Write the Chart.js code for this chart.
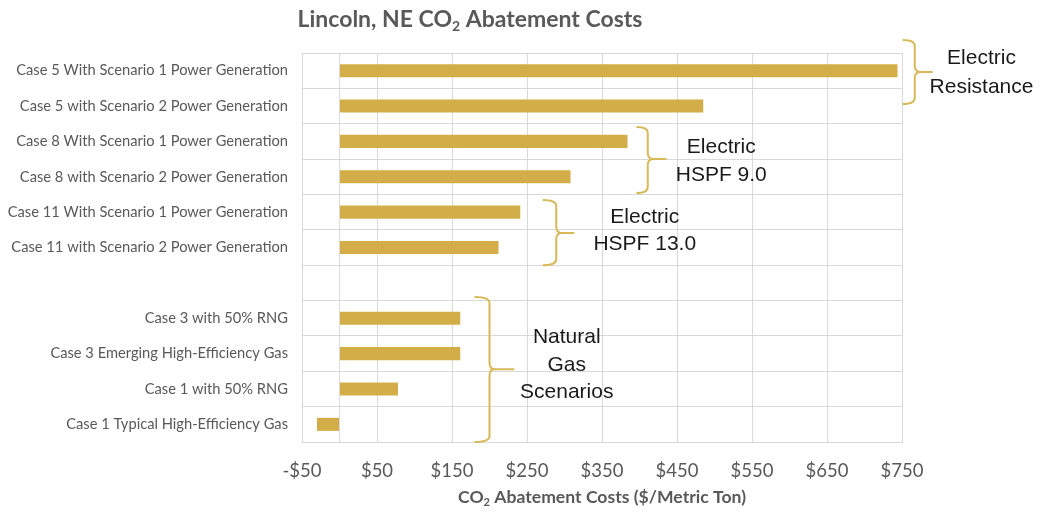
<!DOCTYPE html>
<html>
<head>
<meta charset="utf-8">
<script src="https://cdn.jsdelivr.net/npm/chart.js@4"></script>
<style>
  html, body { margin: 0; padding: 0; background: #ffffff; }
  #wrap { width: 1043px; height: 514px; position: relative; }
</style>
</head>
<body>
<div id="wrap"><canvas id="c" width="1043" height="514"></canvas></div>
<script>
// ---- data ----
const categories = [
  'Case 5 With Scenario 1 Power Generation',
  'Case 5 with Scenario 2 Power Generation',
  'Case 8 With Scenario 1 Power Generation',
  'Case 8 with Scenario 2 Power Generation',
  'Case 11 With Scenario 1 Power Generation',
  'Case 11 with Scenario 2 Power Generation',
  '',
  'Case 3 with 50% RNG',
  'Case 3 Emerging High-Efficiency Gas',
  'Case 1 with 50% RNG',
  'Case 1 Typical High-Efficiency Gas'
];
const abatementCosts = [744, 485, 384, 308, 241, 212, null, 161, 161, 78, -30];
const xTickValues = [-50, 50, 150, 250, 350, 450, 550, 650, 750];
const titleParts = [['Lincoln, NE CO', false], ['2', true], [' Abatement Costs', false]];
const axisTitleParts = [['CO', false], ['2', true], [' Abatement Costs ($/Metric Ton)', false]];
const groupLabels = [
  ['Electric', 'Resistance'],
  ['Electric', 'HSPF 9.0'],
  ['Electric', 'HSPF 13.0'],
  ['Natural', 'Gas', 'Scenarios']
];

// ---- annotation geometry (x in data units, y in category-index units) ----
const braces = [
  { hook: 751, spine: 767, tip: 791, top: -0.87, mid: 0.04, bottom: 0.94, textX: 856, textY: [-0.36, 0.46] },
  { hook: 396, spine: 411, tip: 436, top: 1.59, mid: 2.5, bottom: 3.46, textX: 509, textY: [2.16, 2.95] },
  { hook: 271, spine: 289, tip: 313, top: 3.66, mid: 4.59, bottom: 5.5, textX: 407, textY: [4.14, 4.9] },
  { hook: 180, spine: 200, tip: 233, top: 6.4, mid: 8.44, bottom: 10.5, textX: 303, textY: [7.53, 8.33, 9.09] }
];

const GOLD = '#D3AE48';
const BRACE = '#D8B95A';
const GRID = '#D9D9D9';
const TXT = '#595959';
const CAL = 'Lato, "Open Sans", sans-serif';

function drawParts(ctx, parts, cx, cy, size, weight, color) {
  const mainFont = weight + ' ' + size + 'px ' + CAL;
  const subFont = weight + ' ' + Math.round(size * 0.62) + 'px ' + CAL;
  let total = 0;
  parts.forEach(([t, sub]) => { ctx.font = sub ? subFont : mainFont; total += ctx.measureText(t).width; });
  let x = cx - total / 2;
  ctx.fillStyle = color;
  ctx.textAlign = 'left';
  ctx.textBaseline = 'middle';
  parts.forEach(([t, sub]) => {
    ctx.font = sub ? subFont : mainFont;
    ctx.fillText(t, x, sub ? cy + size * 0.3 : cy);
    x += ctx.measureText(t).width;
  });
}

const decorPlugin = {
  id: 'decor',
  afterDraw(chart) {
    const ctx = chart.ctx;
    const xs = chart.scales.x, ys = chart.scales.y;
    ctx.save();
    // titles
    drawParts(ctx, titleParts, 470, 20, 23, 'bold', TXT);
    drawParts(ctx, axisTitleParts, (chart.chartArea.left + chart.chartArea.right) / 2, 497, 17.6, 'bold', TXT);
    // braces
    braces.forEach((b, i) => {
      const xh = xs.getPixelForValue(b.hook), xv = xs.getPixelForValue(b.spine), xt = xs.getPixelForValue(b.tip);
      const yt = ys.getPixelForValue(b.top), ym = ys.getPixelForValue(b.mid), yb = ys.getPixelForValue(b.bottom);
      const r = 6;
      ctx.strokeStyle = BRACE;
      ctx.lineWidth = 2;
      ctx.beginPath();
      ctx.moveTo(xh, yt);
      ctx.quadraticCurveTo(xv, yt, xv, yt + r);
      ctx.lineTo(xv, ym - r);
      ctx.quadraticCurveTo(xv, ym, xv + r, ym);
      ctx.lineTo(xt, ym);
      ctx.moveTo(xv + r, ym);
      ctx.quadraticCurveTo(xv, ym, xv, ym + r);
      ctx.lineTo(xv, yb - r);
      ctx.quadraticCurveTo(xv, yb, xh, yb);
      ctx.stroke();
      ctx.fillStyle = '#1a1a1a';
      ctx.font = '21px "Liberation Sans", Arial, sans-serif';
      ctx.textAlign = 'center';
      ctx.textBaseline = 'middle';
      groupLabels[i].forEach((line, j) => {
        ctx.fillText(line, xs.getPixelForValue(b.textX), ys.getPixelForValue(b.textY[j]));
      });
    });
    ctx.restore();
  }
};

new Chart(document.getElementById('c'), {
  type: 'bar',
  data: {
    labels: categories,
    datasets: [{
      data: abatementCosts,
      backgroundColor: GOLD,
      borderWidth: 0,
      barPercentage: 0.37,
      categoryPercentage: 1.0
    }]
  },
  plugins: [decorPlugin],
  options: {
    indexAxis: 'y',
    responsive: false,
    animation: false,
    devicePixelRatio: 1,
    layout: { padding: { top: 53, right: 141, left: 0, bottom: 0 } },
    plugins: { legend: { display: false }, tooltip: { enabled: false }, title: { display: false } },
    scales: {
      x: {
        type: 'linear',
        min: -50,
        max: 750,
        afterBuildTicks(scale) {
          const t = xTickValues.map(v => ({ value: v }));
          t.push({ value: 0 });
          t.sort((a, b) => a.value - b.value);
          scale.ticks = t;
        },
        afterFit(scale) { scale.height = 72; },
        grid: { color: GRID, lineWidth: 1, drawTicks: false },
        border: { color: GRID, width: 1 },
        ticks: {
          padding: 18,
          color: TXT,
          font: { family: CAL, size: 18.5 },
          maxRotation: 0,
          autoSkip: false,
          callback(v) { return v === 0 ? '' : (v < 0 ? '-$' + Math.abs(v) : '$' + v); }
        }
      },
      y: {
        afterFit(scale) { scale.width = 302; },
        grid: { color: GRID, lineWidth: 1, drawTicks: false, offset: true },
        border: { color: GRID, width: 1 },
        ticks: {
          padding: 14,
          color: TXT,
          font: { family: CAL, size: 14.7 },
          autoSkip: false
        }
      }
    }
  }
});
</script>
</body>
</html>
